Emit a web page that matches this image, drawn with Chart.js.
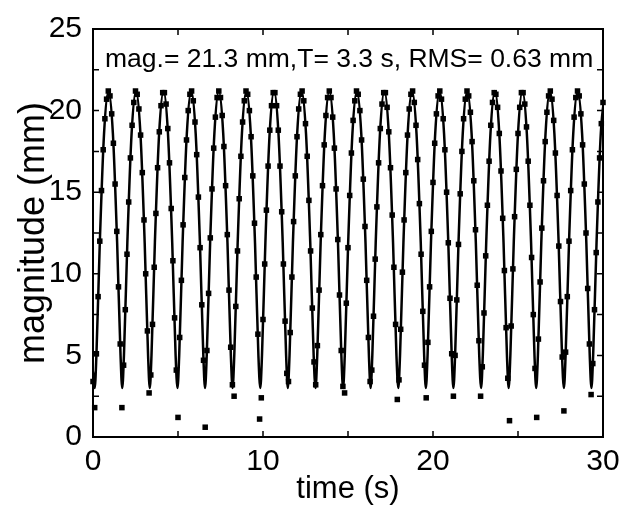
<!DOCTYPE html>
<html>
<head>
<meta charset="utf-8">
<script src="https://cdn.jsdelivr.net/npm/chart.js@4.4.1/dist/chart.umd.min.js"></script>
<style>
  html, body { margin: 0; padding: 0; background: #fff; }
  #chart { display: block; }
</style>
</head>
<body>
<canvas id="chart" width="632" height="508"></canvas>
<script>
// measured magnitude, one sample every 0.1 s
const sampleTime = [
  0, 0.1, 0.2, 0.3, 0.4, 0.5, 0.6, 0.7, 0.8, 0.9,
  1, 1.1, 1.2, 1.3, 1.4, 1.5, 1.6, 1.7, 1.8, 1.9,
  2, 2.1, 2.2, 2.3, 2.4, 2.5, 2.6, 2.7, 2.8, 2.9,
  3, 3.1, 3.2, 3.3, 3.4, 3.5, 3.6, 3.7, 3.8, 3.9,
  4, 4.1, 4.2, 4.3, 4.4, 4.5, 4.6, 4.7, 4.8, 4.9,
  5, 5.1, 5.2, 5.3, 5.4, 5.5, 5.6, 5.7, 5.8, 5.9,
  6, 6.1, 6.2, 6.3, 6.4, 6.5, 6.6, 6.7, 6.8, 6.9,
  7, 7.1, 7.2, 7.3, 7.4, 7.5, 7.6, 7.7, 7.8, 7.9,
  8, 8.1, 8.2, 8.3, 8.4, 8.5, 8.6, 8.7, 8.8, 8.9,
  9, 9.1, 9.2, 9.3, 9.4, 9.5, 9.6, 9.7, 9.8, 9.9,
  10, 10.1, 10.2, 10.3, 10.4, 10.5, 10.6, 10.7, 10.8, 10.9,
  11, 11.1, 11.2, 11.3, 11.4, 11.5, 11.6, 11.7, 11.8, 11.9,
  12, 12.1, 12.2, 12.3, 12.4, 12.5, 12.6, 12.7, 12.8, 12.9,
  13, 13.1, 13.2, 13.3, 13.4, 13.5, 13.6, 13.7, 13.8, 13.9,
  14, 14.1, 14.2, 14.3, 14.4, 14.5, 14.6, 14.7, 14.8, 14.9,
  15, 15.1, 15.2, 15.3, 15.4, 15.5, 15.6, 15.7, 15.8, 15.9,
  16, 16.1, 16.2, 16.3, 16.4, 16.5, 16.6, 16.7, 16.8, 16.9,
  17, 17.1, 17.2, 17.3, 17.4, 17.5, 17.6, 17.7, 17.8, 17.9,
  18, 18.1, 18.2, 18.3, 18.4, 18.5, 18.6, 18.7, 18.8, 18.9,
  19, 19.1, 19.2, 19.3, 19.4, 19.5, 19.6, 19.7, 19.8, 19.9,
  20, 20.1, 20.2, 20.3, 20.4, 20.5, 20.6, 20.7, 20.8, 20.9,
  21, 21.1, 21.2, 21.3, 21.4, 21.5, 21.6, 21.7, 21.8, 21.9,
  22, 22.1, 22.2, 22.3, 22.4, 22.5, 22.6, 22.7, 22.8, 22.9,
  23, 23.1, 23.2, 23.3, 23.4, 23.5, 23.6, 23.7, 23.8, 23.9,
  24, 24.1, 24.2, 24.3, 24.4, 24.5, 24.6, 24.7, 24.8, 24.9,
  25, 25.1, 25.2, 25.3, 25.4, 25.5, 25.6, 25.7, 25.8, 25.9,
  26, 26.1, 26.2, 26.3, 26.4, 26.5, 26.6, 26.7, 26.8, 26.9,
  27, 27.1, 27.2, 27.3, 27.4, 27.5, 27.6, 27.7, 27.8, 27.9,
  28, 28.1, 28.2, 28.3, 28.4, 28.5, 28.6, 28.7, 28.8, 28.9,
  29, 29.1, 29.2, 29.3, 29.4, 29.5, 29.6, 29.7, 29.8, 29.9,
  30
];
const sampleMag = [
  3.4, 1.8, 5.1, 8.6, 12.0, 15.1, 17.6, 19.5, 20.7, 21.2,
  20.9, 19.8, 18.0, 15.5, 12.6, 9.2, 5.7, 1.8, 4.4, 7.8,
  11.2, 14.4, 17.1, 19.1, 20.5, 21.2, 21.0, 20.1, 18.5, 16.2,
  13.3, 10.0, 6.5, 2.7, 3.8, 6.9, 10.4, 13.7, 16.5, 18.7,
  20.3, 21.1, 21.1, 20.4, 18.9, 16.8, 14.0, 10.8, 7.3, 4.1,
  1.2, 6.1, 9.6, 13.0, 15.9, 18.2, 20.0, 21.0, 21.2, 20.6,
  19.3, 17.3, 14.7, 11.6, 8.1, 4.7, 0.6, 5.3, 8.8, 12.2,
  15.2, 17.7, 19.6, 20.8, 21.2, 20.8, 19.7, 17.8, 15.4, 12.4,
  9.0, 5.5, 3.2, 2.5, 8.0, 11.4, 14.6, 17.2, 19.3, 20.6,
  21.2, 21.0, 20.0, 18.4, 16.0, 13.1, 9.8, 6.3, 1.1, 2.4,
  7.2, 10.6, 13.9, 16.6, 18.8, 20.3, 21.1, 21.1, 20.3, 18.8,
  16.6, 13.8, 10.6, 7.1, 3.9, 3.4, 6.4, 9.8, 13.2, 16.0,
  18.4, 20.1, 21.0, 21.2, 20.6, 19.2, 17.2, 14.5, 11.4, 7.9,
  4.6, 3.2, 5.6, 9.0, 12.4, 15.4, 17.9, 19.7, 20.8, 21.2,
  20.8, 19.6, 17.7, 15.2, 12.1, 8.7, 5.3, 3.1, 2.7, 8.2,
  11.6, 14.8, 17.4, 19.4, 20.6, 21.2, 21.0, 20.0, 18.2, 15.8,
  12.9, 9.6, 6.1, 3.4, 4.1, 7.4, 10.9, 14.1, 16.8, 18.9,
  20.4, 21.1, 21.1, 20.2, 18.7, 16.5, 13.6, 10.4, 6.9, 2.3,
  3.5, 6.6, 10.1, 13.3, 16.2, 18.5, 20.1, 21.0, 21.2, 20.5,
  19.1, 17.0, 14.3, 11.2, 7.7, 4.4, 2.4, 5.8, 9.2, 12.6,
  15.6, 18.0, 19.8, 20.9, 21.2, 20.7, 19.5, 17.6, 15.0, 11.9,
  8.5, 5.1, 2.5, 5.0, 8.4, 11.8, 14.9, 17.5, 19.5, 20.7,
  21.2, 20.9, 19.9, 18.1, 15.7, 12.7, 9.3, 5.9, 2.5, 4.3,
  7.6, 11.1, 14.2, 16.9, 19.1, 20.5, 21.1, 21.0, 20.2, 18.6,
  16.3, 13.4, 10.2, 6.7, 3.6, 1.0, 6.8, 10.3, 13.5, 16.4,
  18.6, 20.2, 21.1, 21.1, 20.4, 19.0, 16.9, 14.2, 11.0, 7.5,
  4.2, 1.2, 6.0, 9.5, 12.8, 15.7, 18.1, 19.9, 20.9, 21.2,
  20.7, 19.4, 17.4, 14.8, 11.7, 8.3, 4.9, 1.6, 5.2, 8.6,
  12.0, 15.1, 17.6, 19.6, 20.8, 21.2, 20.9, 19.8, 17.9, 15.5,
  12.5, 9.1, 5.7, 2.6, 4.5, 7.8, 11.3, 14.4, 17.1, 19.2,
  20.5
];

// fitted curve, read at troughs, flanks and crests
const fitTime = [
  0,
  0.10, 0.20, 0.40, 0.65, 0.91, 1.17, 1.42, 1.62,
  1.72, 1.82, 2.02, 2.27, 2.53, 2.79, 3.04, 3.24,
  3.34, 3.44, 3.64, 3.89, 4.15, 4.41, 4.66, 4.86,
  4.97, 5.07, 5.27, 5.52, 5.78, 6.04, 6.29, 6.49,
  6.59, 6.69, 6.89, 7.14, 7.40, 7.66, 7.91, 8.11,
  8.21, 8.31, 8.51, 8.76, 9.02, 9.28, 9.53, 9.73,
  9.84, 9.94, 10.14, 10.39, 10.65, 10.91, 11.16, 11.36,
  11.46, 11.56, 11.76, 12.01, 12.27, 12.53, 12.78, 12.98,
  13.09, 13.19, 13.39, 13.64, 13.90, 14.16, 14.41, 14.61,
  14.71, 14.81, 15.01, 15.26, 15.52, 15.78, 16.03, 16.23,
  16.33, 16.43, 16.63, 16.88, 17.14, 17.40, 17.65, 17.85,
  17.96, 18.06, 18.26, 18.51, 18.77, 19.03, 19.28, 19.48,
  19.58, 19.68, 19.88, 20.13, 20.39, 20.65, 20.90, 21.10,
  21.20, 21.30, 21.50, 21.75, 22.01, 22.27, 22.52, 22.72,
  22.83, 22.93, 23.13, 23.38, 23.64, 23.90, 24.15, 24.35,
  24.45, 24.55, 24.75, 25.00, 25.26, 25.52, 25.77, 25.97,
  26.07, 26.17, 26.37, 26.62, 26.88, 27.14, 27.39, 27.59,
  27.70, 27.80, 28.00, 28.25, 28.51, 28.77, 29.02, 29.22,
  29.32, 29.42, 29.62, 29.87, 30.13
];
const fitMag = [
  4.0,
  3.0, 5.0, 11.9, 18.6, 21.2, 18.6, 11.9, 5.0,
  3.0, 5.0, 11.9, 18.6, 21.2, 18.6, 11.9, 5.0,
  3.0, 5.0, 11.9, 18.6, 21.2, 18.6, 11.9, 5.0,
  3.0, 5.0, 11.9, 18.6, 21.2, 18.6, 11.9, 5.0,
  3.0, 5.0, 11.9, 18.6, 21.2, 18.6, 11.9, 5.0,
  3.0, 5.0, 11.9, 18.6, 21.2, 18.6, 11.9, 5.0,
  3.0, 5.0, 11.9, 18.6, 21.2, 18.6, 11.9, 5.0,
  3.0, 5.0, 11.9, 18.6, 21.2, 18.6, 11.9, 5.0,
  3.0, 5.0, 11.9, 18.6, 21.2, 18.6, 11.9, 5.0,
  3.0, 5.0, 11.9, 18.6, 21.2, 18.6, 11.9, 5.0,
  3.0, 5.0, 11.9, 18.6, 21.2, 18.6, 11.9, 5.0,
  3.0, 5.0, 11.9, 18.6, 21.2, 18.6, 11.9, 5.0,
  3.0, 5.0, 11.9, 18.6, 21.2, 18.6, 11.9, 5.0,
  3.0, 5.0, 11.9, 18.6, 21.2, 18.6, 11.9, 5.0,
  3.0, 5.0, 11.9, 18.6, 21.2, 18.6, 11.9, 5.0,
  3.0, 5.0, 11.9, 18.6, 21.2, 18.6, 11.9, 5.0,
  3.0, 5.0, 11.9, 18.6, 21.2, 18.6, 11.9, 5.0,
  3.0, 5.0, 11.9, 18.6, 21.2, 18.6, 11.9, 5.0,
  3.0, 5.0, 11.9, 18.6, 21.2
];

const xTickLabels = [0, 10, 20, 30];
const xTickMarks = [0, 5, 10, 15, 20, 25, 30];
const yTickLabels = [0, 5, 10, 15, 20, 25];
const yTickMarks = [0, 2.5, 5, 7.5, 10, 12.5, 15, 17.5, 20, 22.5, 25];
const fitNote = 'mag.= 21.3 mm,T= 3.3 s, RMS= 0.63 mm';

const FONT = '"Liberation Sans", Arial, Helvetica, sans-serif';
const TICK = 6;

// closed frame with inward ticks on all four sides, plus the fit note
const frameAndTicks = {
  id: 'frameAndTicks',
  afterDatasetsDraw(chart) {
    const { ctx, chartArea: a, scales: { x, y } } = chart;
    ctx.save();
    ctx.strokeStyle = '#000';
    ctx.lineWidth = 2;
    ctx.strokeRect(a.left, a.top, a.right - a.left, a.bottom - a.top);
    ctx.lineWidth = 1.5;
    ctx.beginPath();
    xTickMarks.forEach(v => {
      const px = x.getPixelForValue(v);
      ctx.moveTo(px, a.bottom); ctx.lineTo(px, a.bottom - TICK);
      ctx.moveTo(px, a.top); ctx.lineTo(px, a.top + TICK);
    });
    yTickMarks.forEach(v => {
      const py = y.getPixelForValue(v);
      ctx.moveTo(a.left, py); ctx.lineTo(a.left + TICK, py);
      ctx.moveTo(a.right, py); ctx.lineTo(a.right - TICK, py);
    });
    ctx.stroke();
    ctx.fillStyle = '#000';
    ctx.font = '26.5px ' + FONT;
    ctx.textBaseline = 'alphabetic';
    ctx.fillText(fitNote, a.left + 12, a.top + 38);
    ctx.restore();
  }
};

const ctx = document.getElementById('chart').getContext('2d');
new Chart(ctx, {
  type: 'line',
  data: {
    datasets: [
      {
        label: 'measured',
        data: sampleTime.map((t, i) => ({ x: t, y: sampleMag[i] })),
        showLine: false,
        pointStyle: 'rect',
        pointRadius: 3.9,
        pointBorderWidth: 0,
        pointBackgroundColor: '#000',
        borderColor: '#000',
        clip: 5
      },
      {
        label: 'fit',
        data: fitTime.map((t, i) => ({ x: t, y: fitMag[i] })),
        borderColor: '#000',
        borderWidth: 2.5,
        pointRadius: 0,
        cubicInterpolationMode: 'monotone',
        fill: false
      }
    ]
  },
  options: {
    responsive: false,
    animation: false,
    layout: { padding: { top: 28, right: 29, left: 0, bottom: 0 } },
    plugins: { legend: { display: false }, tooltip: { enabled: false } },
    scales: {
      x: {
        type: 'linear',
        min: 0,
        max: 30,
        afterBuildTicks: s => { s.ticks = xTickLabels.map(v => ({ value: v })); },
        afterFit: s => { s.height = 71; },
        grid: { display: false, drawTicks: false },
        border: { display: false },
        ticks: { color: '#000', font: { family: FONT, size: 30 }, padding: 7, maxRotation: 0 },
        title: { display: true, text: 'time (s)', color: '#000', font: { family: FONT, size: 31, lineHeight: 1.2 }, padding: 0 }
      },
      y: {
        type: 'linear',
        min: 0,
        max: 25,
        afterBuildTicks: s => { s.ticks = yTickLabels.map(v => ({ value: v })); },
        afterFit: s => { s.width = 93; },
        grid: { display: false, drawTicks: false },
        border: { display: false },
        ticks: { color: '#000', font: { family: FONT, size: 30 }, padding: 11 },
        title: { display: true, text: 'magnitude (mm)', color: '#000', font: { family: FONT, size: 36, lineHeight: 1.1 }, padding: { top: 14, bottom: 0 } }
      }
    }
  },
  plugins: [frameAndTicks]
});
</script>
</body>
</html>
